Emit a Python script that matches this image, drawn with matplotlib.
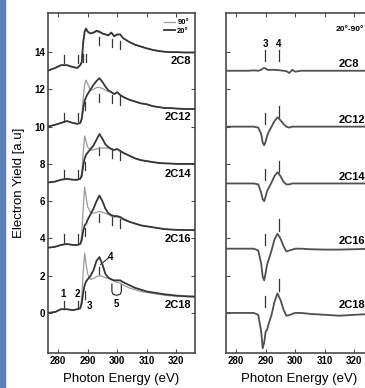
import matplotlib
matplotlib.use("Agg")
import matplotlib.pyplot as plt
from matplotlib.lines import Line2D
from matplotlib.patches import Rectangle

plt.rcParams["font.family"] = ["Liberation Sans", "DejaVu Sans"]

# photon energy grid of the read-off points (eV)
energy = [276.5, 279, 281, 283, 285, 286.5, 287.5, 288, 288.5, 289, 289.5, 290,
          291, 292, 293, 294, 295, 296, 297, 298, 299, 300, 301, 302, 304, 306,
          308, 310, 312, 314, 316, 318, 320, 323, 326]

samples = ["2C8", "2C12", "2C14", "2C16", "2C18"]

# 90 deg spectra (light curves)
y90 = {
    "2C8": [13.0, 13.15, 13.3, 13.3, 13.2, 13.15, 13.3, 13.5, 14.6, 15.2, 15.3, 15.1,
            15.0, 15.05, 15.1, 15.05, 15.0, 14.95, 14.9, 15.05, 14.85, 14.95, 14.95, 14.75,
            14.55, 14.4, 14.3, 14.2, 14.12, 14.06, 14.02, 14.0, 14.0, 13.98, 13.98],
    "2C12": [10.0, 10.1, 10.2, 10.3, 10.2, 10.15, 10.2, 10.5, 11.5, 12.3, 12.5, 12.3,
             11.95, 12.0, 12.1, 12.1, 12.05, 11.95, 11.9, 11.85, 11.75, 11.85, 11.7, 11.6,
             11.45, 11.35, 11.25, 11.2, 11.1, 11.05, 11.0, 11.0, 10.97, 10.95, 10.95],
    "2C14": [7.0, 7.05, 7.15, 7.2, 7.15, 7.15, 7.2, 7.5, 8.6, 9.5, 9.2, 8.9,
             8.75, 8.75, 8.8, 8.85, 8.85, 8.85, 8.85, 8.8, 8.75, 8.8, 8.7, 8.6,
             8.45, 8.3, 8.2, 8.15, 8.1, 8.05, 8.03, 8.02, 8.0, 8.0, 8.0],
    "2C16": [3.5, 3.55, 3.65, 3.7, 3.65, 3.65, 3.7, 4.2, 5.6, 6.75, 6.2, 5.7,
             5.4, 5.35, 5.4, 5.45, 5.4, 5.35, 5.3, 5.2, 5.15, 5.15, 5.1, 5.0,
             4.9, 4.8, 4.7, 4.65, 4.6, 4.55, 4.5, 4.48, 4.46, 4.45, 4.45],
    "2C18": [0.0, 0.05, 0.2, 0.2, 0.15, 0.2, 0.25, 0.8, 2.2, 3.2, 2.6, 2.1,
             1.8, 1.85, 1.95, 2.0, 1.95, 1.9, 1.85, 1.8, 1.7, 1.65, 1.6, 1.5,
             1.35, 1.25, 1.15, 1.1, 1.05, 1.0, 0.95, 0.92, 0.9, 0.87, 0.85],
}

# 20 deg spectra (dark curves)
y20 = {
    "2C8": [13.0, 13.15, 13.3, 13.3, 13.2, 13.15, 13.3, 13.45, 14.5, 15.1, 15.25, 15.1,
            15.0, 15.05, 15.15, 15.1, 15.0, 14.95, 14.9, 15.05, 14.85, 14.95, 14.95, 14.75,
            14.55, 14.4, 14.3, 14.2, 14.12, 14.06, 14.02, 14.0, 14.0, 13.98, 13.98],
    "2C12": [10.0, 10.1, 10.2, 10.3, 10.2, 10.15, 10.2, 10.4, 11.0, 11.4, 11.6, 11.75,
             12.0, 12.25, 12.45, 12.6, 12.4, 12.15, 11.95, 11.85, 11.75, 11.85, 11.7, 11.6,
             11.45, 11.35, 11.25, 11.2, 11.1, 11.05, 11.0, 11.0, 10.97, 10.95, 10.95],
    "2C14": [7.0, 7.05, 7.15, 7.2, 7.15, 7.15, 7.2, 7.35, 7.9, 8.3, 8.5, 8.6,
             8.8, 9.0, 9.3, 9.6, 9.35, 9.05, 8.9, 8.8, 8.75, 8.8, 8.7, 8.6,
             8.45, 8.3, 8.2, 8.15, 8.1, 8.05, 8.03, 8.02, 8.0, 8.0, 8.0],
    "2C16": [3.5, 3.55, 3.65, 3.7, 3.65, 3.65, 3.7, 3.9, 4.4, 4.7, 4.8, 5.0,
             5.3, 5.6, 6.0, 6.3, 6.0, 5.6, 5.35, 5.25, 5.2, 5.2, 5.15, 5.05,
             4.9, 4.8, 4.7, 4.65, 4.6, 4.55, 4.5, 4.48, 4.46, 4.45, 4.45],
    "2C18": [0.0, 0.05, 0.2, 0.2, 0.15, 0.2, 0.25, 0.5, 1.1, 1.5, 1.7, 1.8,
             2.0, 2.3, 2.8, 3.0, 2.6, 2.1, 1.9, 1.8, 1.75, 1.75, 1.75, 1.65,
             1.5, 1.35, 1.25, 1.15, 1.1, 1.05, 1.0, 0.97, 0.93, 0.9, 0.88],
}

# difference spectra 20deg - 90deg (right panel), offset per sample
energy_diff = [276.5, 280, 284, 286, 287.5, 288.5, 289, 289.5, 290, 290.5, 291, 292,
               293, 294, 295, 296, 297, 298, 299, 300, 302, 305, 310, 315, 320, 326]
ydiff = {
    "2C8": [13.0, 13.0, 13.0, 13.02, 13.0, 13.05, 13.12, 13.15, 13.12, 13.06, 13.04, 13.05,
            13.05, 13.04, 13.02, 13.0, 12.98, 12.88, 13.05, 12.95, 13.0, 13.0, 13.0, 13.0, 13.0, 13.0],
    "2C12": [10.0, 10.0, 10.0, 10.0, 9.95, 9.6, 9.15, 9.0, 9.2, 9.5, 9.7, 10.0,
             10.3, 10.5, 10.35, 10.15, 10.0, 9.95, 10.0, 10.0, 10.0, 10.0, 10.0, 10.0, 10.0, 10.0],
    "2C14": [6.95, 6.95, 6.95, 6.95, 6.9, 6.45, 6.1, 6.0, 6.25, 6.55, 6.7, 7.0,
             7.35, 7.55, 7.35, 7.05, 6.9, 6.9, 6.95, 6.95, 6.95, 6.95, 6.95, 6.95, 6.95, 6.95],
    "2C16": [3.45, 3.45, 3.45, 3.45, 3.35, 2.65, 1.95, 1.75, 2.15, 2.6, 2.85, 3.35,
             3.95, 4.25, 4.0, 3.6, 3.3, 3.35, 3.4, 3.45, 3.45, 3.42, 3.4, 3.4, 3.42, 3.45],
    "2C18": [0.0, 0.0, 0.0, 0.0, -0.1, -1.0, -1.9, -1.6, -1.0, -0.9, -0.6, -0.1,
             0.6, 1.05, 0.7, 0.2, -0.15, -0.12, -0.05, 0.0, 0.0, -0.05, -0.1, -0.15, -0.1, -0.05],
}

# label positions of sample names (y value)
label_y_left = [13.5, 10.5, 7.45, 3.95, 0.4]
label_y_right = [13.35, 10.35, 7.3, 3.85, 0.4]

# feature tick marks on the left spectra: (energy, centre y)
marks_left = {
    "2C8": [(282, 13.65), (286.8, 13.65), (288.6, 13.7), (289.4, 13.7),
            (294, 14.6), (298.4, 14.5), (301.1, 14.4)],
    "2C12": [(282, 10.5), (286.8, 10.5), (289, 11.1),
             (294, 11.55), (298.4, 11.48), (301.1, 11.4)],
    "2C14": [(282, 7.45), (286.8, 7.45), (289, 7.9),
             (294, 8.7), (298.4, 8.55), (301.1, 8.45)],
    "2C16": [(282, 4.0), (286.8, 4.0), (289, 4.35),
             (294, 5.1), (298.4, 4.95), (301.1, 4.8)],
    "2C18": [(282, 0.42), (286.8, 0.42), (289, 0.96), (293.8, 2.25)],
}
# feature tick marks on the difference spectra
marks_right = {
    "2C8": [(289.8, 13.8), (294.5, 13.8)],
    "2C12": [(289.8, 10.45), (294.5, 10.8)],
    "2C14": [(289.8, 7.42), (294.5, 7.88)],
    "2C16": [(289.8, 3.95), (294.5, 4.72)],
    "2C18": [(289.8, 0.62), (294.5, 1.5)],
}

dark = "#363636"
light = "#9a9a9a"
frame = "#4a4a4a"

fig = plt.figure(figsize=(3.65, 3.88), dpi=100)
fig.patches.append(Rectangle((0, 0), 5 / 365, 1, transform=fig.transFigure,
                             color="#5b7fb7", zorder=0))

ax = fig.add_axes([48 / 365, 1 - 353 / 388, 147 / 365, 340 / 388])
ax2 = fig.add_axes([226 / 365, 1 - 353 / 388, 147 / 365, 340 / 388])

for name in samples:
    ax.plot(energy, y90[name], color=light, lw=0.9, zorder=3)
    ax.plot(energy, y20[name], color=dark, lw=1.3, zorder=4)
    ax2.plot(energy_diff, ydiff[name], color="#505050", lw=1.3, zorder=4)

for name, ly in zip(samples, label_y_left):
    ax.text(325, ly, name, ha="right", va="center", fontsize=8, fontweight="bold")
    for mx, my in marks_left[name]:
        ax.plot([mx, mx], [my - 0.22, my + 0.22], color=dark, lw=0.9)

for name, ly in zip(samples, label_y_right):
    ax2.text(314.8, ly, name, ha="left", va="center", fontsize=8, fontweight="bold")
    for mx, my in marks_right[name]:
        ax2.plot([mx, mx], [my - 0.3, my + 0.3], color=dark, lw=0.9)

# peak labels on the 2C18 spectrum
nb = dict(fontsize=7, fontweight="bold", ha="center", va="center")
ax.text(281.8, 1.0, "1", **nb)
ax.text(286.5, 1.0, "2", **nb)
ax.text(290.6, 0.35, "3", **nb)
ax.text(297.8, 3.0, "4", **nb)
ax.plot([297.0, 294.4], [2.95, 2.6], color=dark, lw=0.8)
ax.plot([298.2, 298.2, 298.6, 299.8, 301.0, 301.4, 301.4],
        [1.55, 1.15, 1.0, 0.95, 1.0, 1.15, 1.55], color=dark, lw=0.9)
ax.text(299.8, 0.5, "5", **nb)

ax2.text(289.8, 14.45, "3", **nb)
ax2.text(294.5, 14.45, "4", **nb)
ax2.text(313.8, 15.2, "20°-90°", fontsize=6, fontweight="bold", ha="left", va="center")

handles = [Line2D([], [], color=light, lw=0.9), Line2D([], [], color=dark, lw=1.3)]
leg = ax.legend(handles, ["90°", "20°"], loc="upper right", fontsize=5.5,
                frameon=False, handlelength=1.4, handletextpad=0.3,
                labelspacing=0.1, borderpad=0.3)
for t in leg.get_texts():
    t.set_fontweight("bold")

for a in (ax, ax2):
    a.set_xlim(276.6, 326.3)
    a.set_ylim(-2.15, 16.1)
    a.set_xticks([280, 290, 300, 310, 320])
    a.set_yticks(range(0, 15, 2))
    a.tick_params(direction="in", top=True, right=True, length=3, width=0.8,
                  color=frame, labelsize=7, pad=2)
    for lab in a.get_xticklabels() + a.get_yticklabels():
        lab.set_fontweight("bold")
    for s in a.spines.values():
        s.set_color(frame)
        s.set_linewidth(1.2)
    a.set_xlabel("Photon Energy (eV)", fontsize=9.5, labelpad=5)

ax2.tick_params(labelleft=False)
ax.set_ylabel("Electron Yield [a.u]", fontsize=9.5, labelpad=7)

fig.savefig("out.png", dpi=100)
